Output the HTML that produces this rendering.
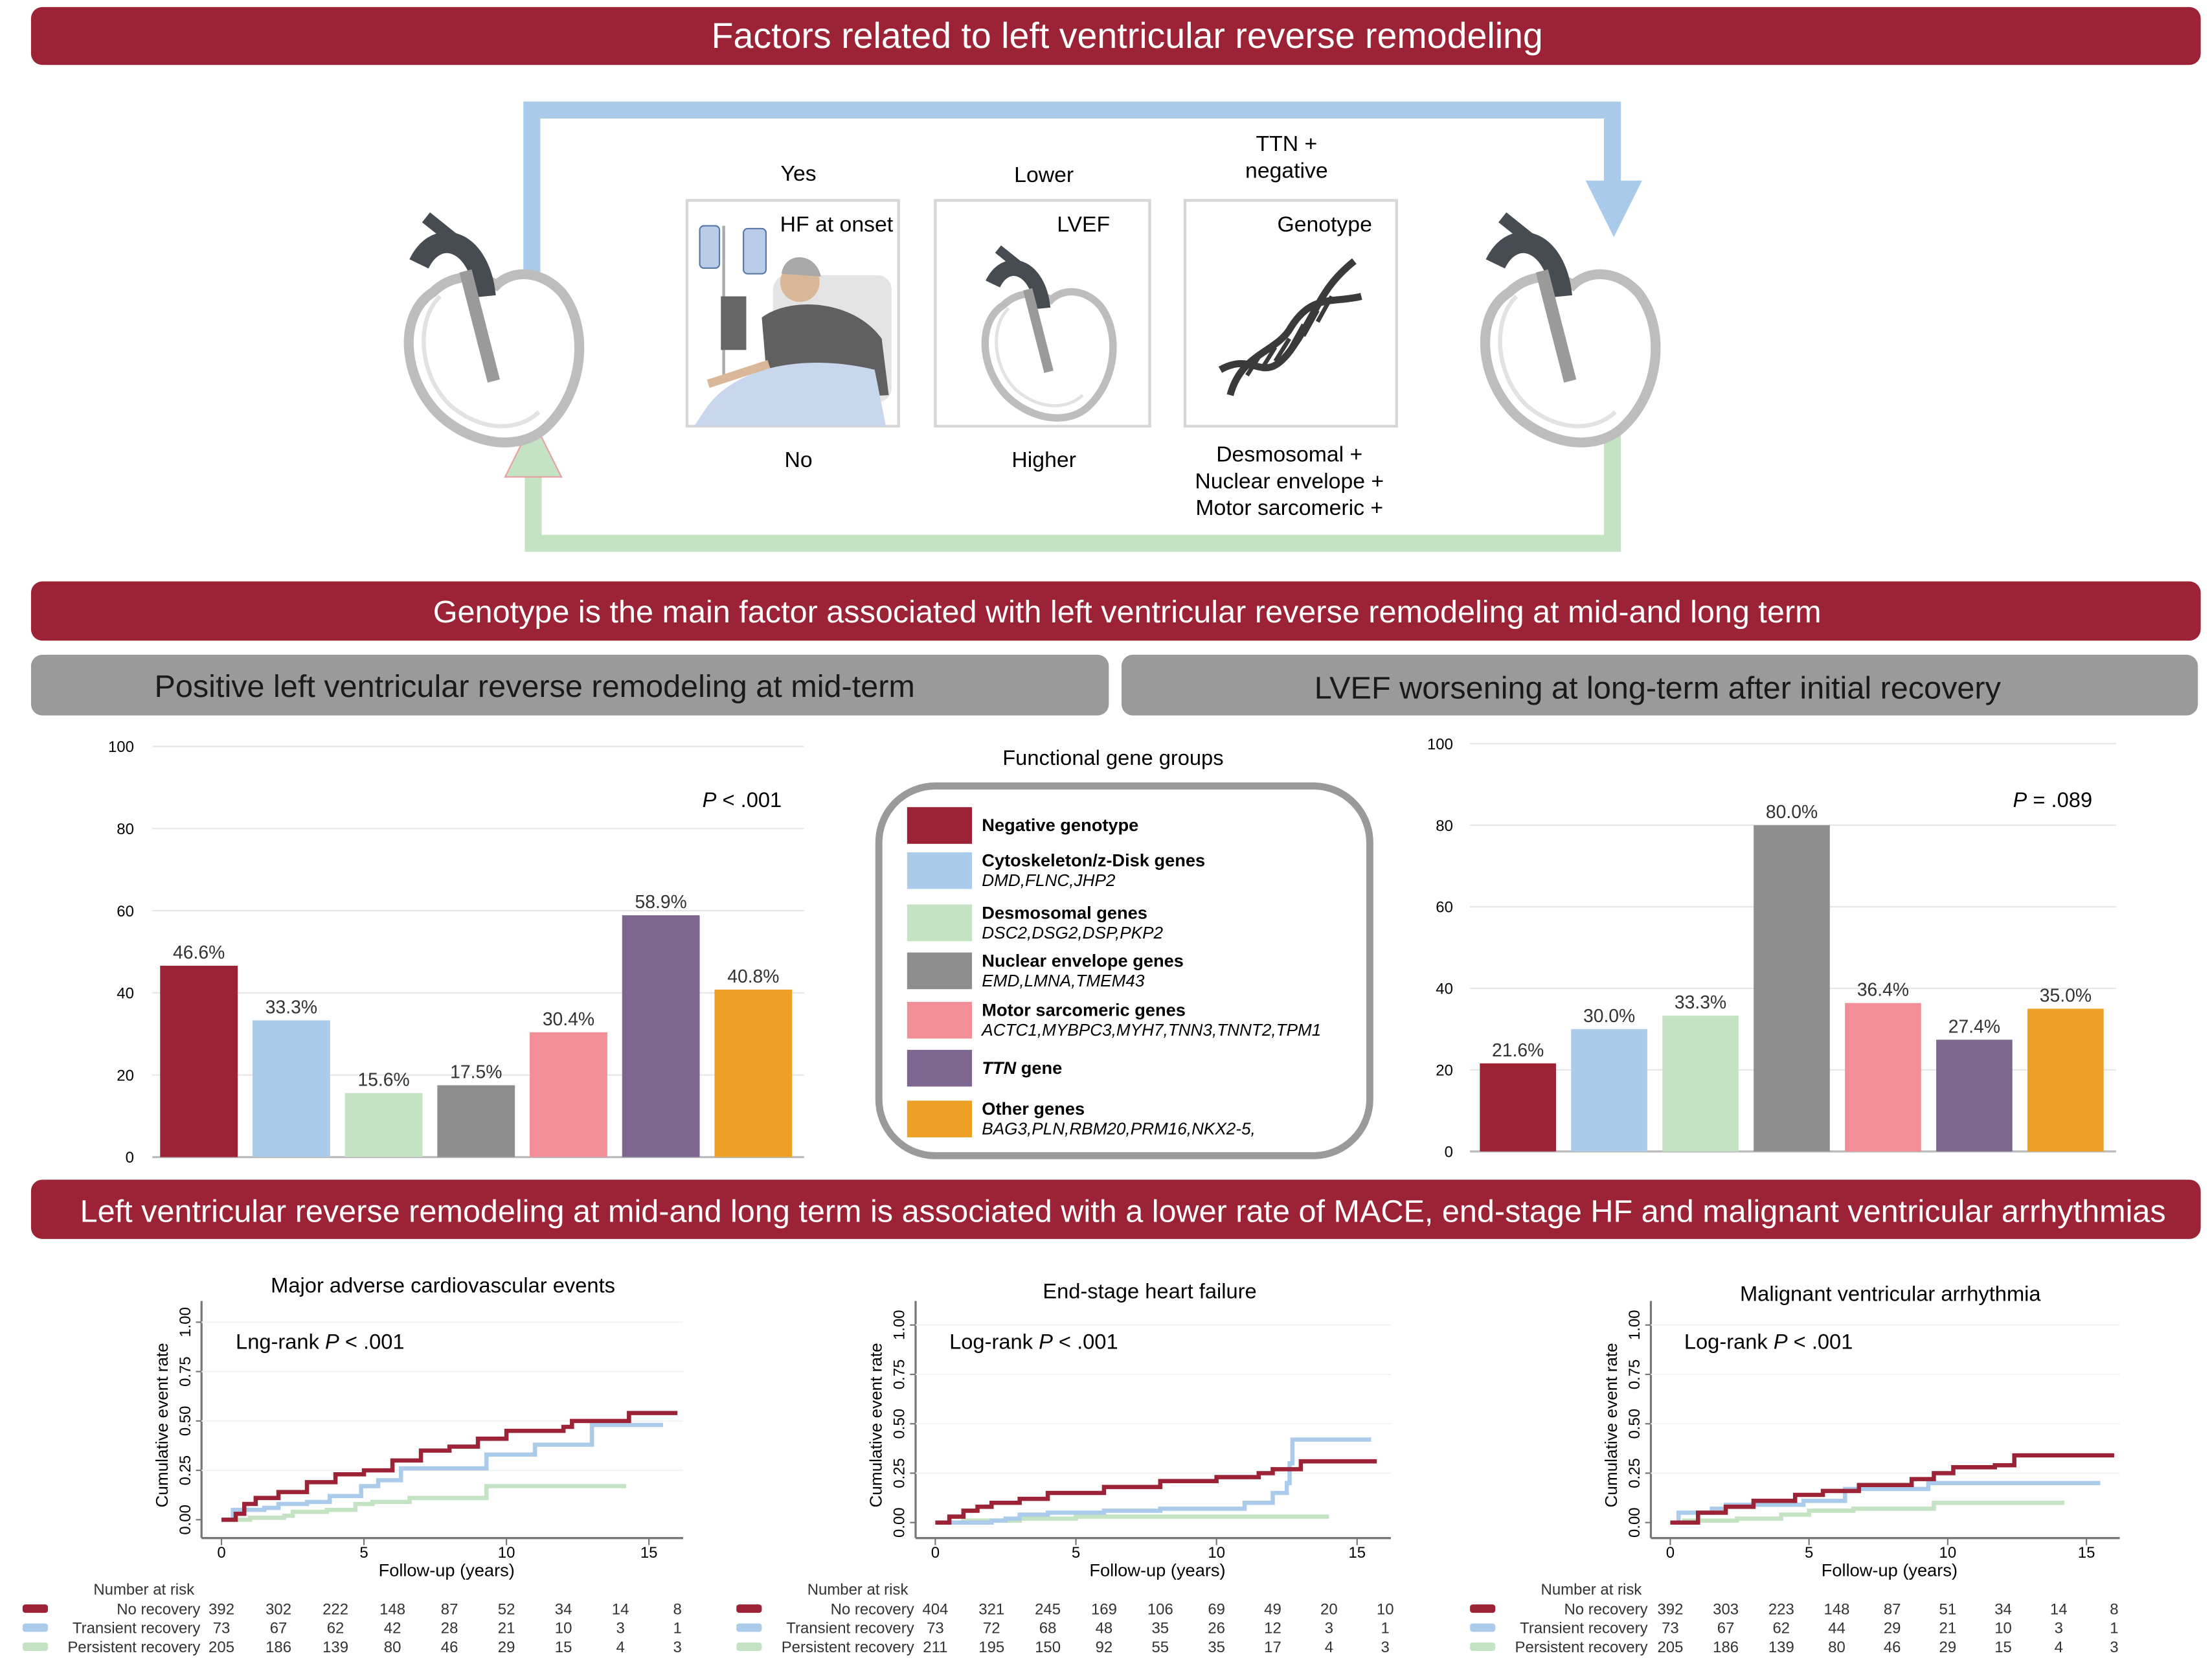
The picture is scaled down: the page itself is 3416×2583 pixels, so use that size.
<!DOCTYPE html>
<html><head><meta charset="utf-8"><style>
html,body{margin:0;padding:0;background:#fff}
svg{display:block}
text{font-family:"Liberation Sans",Arial,sans-serif}
</style></head><body>
<svg id="root" xmlns="http://www.w3.org/2000/svg" width="3416" height="2583" viewBox="0 0 1568 1185.6">
<defs>
<g id="heart">
<path d="M-45,-25 C-72,-8 -66,42 -36,66 C-10,86 20,86 36,70 C62,45 66,0 46,-25 C30,-42 10,-40 0,-30 C-15,-40 -34,-36 -45,-25 Z" fill="#fff" stroke="#bdbdbd" stroke-width="7"/>
<path d="M-40,-22 C-58,-5 -55,35 -32,56 C-10,74 15,74 30,60" fill="none" stroke="#e2e2e2" stroke-width="3"/>
<path d="M-8,-22 C-12,-62 -42,-72 -55,-45" fill="none" stroke="#474c52" stroke-width="15"/>
<path d="M-30,-62 L-50,-78" stroke="#474c52" stroke-width="9"/>
<path d="M-22,-40 L-2,38" stroke="#9a9a9a" stroke-width="9"/>
</g>
</defs>

<g>
<rect x="22" y="5" width="1538" height="41" rx="8" fill="#9b2335"/>
<text x="799" y="34" font-size="25.5" fill="#fff" text-anchor="middle">Factors related to left ventricular reverse remodeling</text>
</g>

<g>
<path d="M377,205 L377,78 L1143,78 L1143,132" fill="none" stroke="#a9cbe9" stroke-width="12"/>
<polygon points="1124,128 1164,128 1144,168" fill="#a9cbe9"/>
</g>
<g>
<path d="M1143,295 L1143,385 L378,385 L378,335" fill="none" stroke="#c3e3c3" stroke-width="12"/>
<polygon points="358,338 398,338 378,298" fill="#c3e3c3" stroke="#e8a0a0" stroke-width="1"/>
</g>

<use href="#heart" transform="translate(352,232)"/>
<use href="#heart" transform="translate(1115,232)"/>

<g>
<rect x="487" y="142" width="150" height="160" fill="#fff" stroke="#d6d6d6" stroke-width="2"/>
<line x1="513" y1="160" x2="513" y2="270" stroke="#aaa" stroke-width="2"/>
<rect x="496" y="160" width="14" height="30" rx="3" fill="#b9cde8" stroke="#5a78a8"/>
<rect x="527" y="162" width="16" height="32" rx="3" fill="#b9cde8" stroke="#5a78a8"/>
<rect x="511" y="210" width="18" height="38" fill="#666"/>
<rect x="548" y="195" width="84" height="90" rx="10" fill="#e4e4e4"/>
<circle cx="567" cy="200" r="14" fill="#d9b89a"/>
<path d="M554,194 C556,178 578,178 582,196" fill="#a8a8a8"/>
<path d="M540,225 C560,210 605,212 625,240 L630,280 L545,285 Z" fill="#606060"/>
<path d="M500,290 C520,260 570,250 620,262 L628,302 L492,302 Z" fill="#c9d7ee"/>
<path d="M502,272 L545,258" stroke="#d9b89a" stroke-width="6"/>
<text x="593" y="164" font-size="15.5" text-anchor="middle">HF at onset</text>
</g>
<g>
<rect x="663" y="142" width="152" height="160" fill="#fff" stroke="#d6d6d6" stroke-width="2"/>
<use href="#heart" transform="translate(745,235) scale(0.75)"/>
<text x="768" y="164" font-size="15.5" text-anchor="middle">LVEF</text>
</g>
<g>
<rect x="840" y="142" width="150" height="160" fill="#fff" stroke="#d6d6d6" stroke-width="2"/>
<path d="M865,262 C890,248 895,275 915,248 C935,220 935,205 960,185" fill="none" stroke="#3a3a3a" stroke-width="5"/>
<path d="M872,280 C880,250 905,250 915,232 C930,208 945,215 965,210" fill="none" stroke="#3a3a3a" stroke-width="5"/>
<path d="M884,266 L893,252 M894,262 L904,246 M904,256 L914,240 M914,248 L924,230 M924,238 L934,220 M934,228 L944,210" stroke="#3a3a3a" stroke-width="3"/>
<text x="939" y="164" font-size="15.5" text-anchor="middle">Genotype</text>
</g>
<g font-size="15.5" text-anchor="middle">
<text x="566" y="128">Yes</text>
<text x="740" y="129">Lower</text>
<text x="912" y="107">TTN +</text>
<text x="912" y="126">negative</text>
<text x="566" y="331">No</text>
<text x="740" y="331">Higher</text>
<text x="914" y="327">Desmosomal +</text>
<text x="914" y="346">Nuclear envelope +</text>
<text x="914" y="365">Motor sarcomeric +</text>
</g>

<g>
<rect x="22" y="412" width="1538" height="42" rx="8" fill="#9b2335"/>
<text x="799" y="441" font-size="22.3" fill="#fff" text-anchor="middle">Genotype is the main factor associated with left ventricular reverse remodeling at mid-and long term</text>
</g>
<g>
<rect x="22" y="464" width="764" height="43" rx="8" fill="#9a9a9a"/>
<text x="379" y="494" font-size="22.3" fill="#1a1a1a" text-anchor="middle">Positive left ventricular reverse remodeling at mid-term</text>
</g>
<g>
<rect x="795" y="464" width="763" height="43" rx="8" fill="#9a9a9a"/>
<text x="1175" y="495" font-size="22.3" fill="#1a1a1a" text-anchor="middle">LVEF worsening at long-term after initial recovery</text>
</g>

<g id="barL"></g>
<g id="barR"></g>
<text x="526" y="572" font-size="15" text-anchor="middle"><tspan font-style="italic">P</tspan> &lt; .001</text>
<text x="1455" y="572" font-size="15" text-anchor="middle"><tspan font-style="italic">P</tspan> = .089</text>

<g>
<text x="789" y="542" font-size="15" text-anchor="middle">Functional gene groups</text>
<rect x="623" y="557" width="348" height="262" rx="40" fill="#fff" stroke="#9a9a9a" stroke-width="5"/>
<g id="legendRows"></g>
</g>

<g>
<rect x="22" y="836" width="1538" height="42" rx="8" fill="#9b2335"/>
<text x="796" y="866" font-size="22.3" fill="#fff" text-anchor="middle">Left ventricular reverse remodeling at mid-and long term is associated with a lower rate of MACE, end-stage HF and malignant ventricular arrhythmias</text>
</g>

<g id="km1"></g>
<g id="km2"></g>
<g id="km3"></g>
</svg>
<script>
const NS="http://www.w3.org/2000/svg";
const barColors=["#9b2335","#abcbea","#c3e3c3","#8e8e8e","#f28f96","#7d6791","#ee9f25"];
const midtermValues=[46.6,33.3,15.6,17.5,30.4,58.9,40.8];
const longtermValues=[21.6,30.0,33.3,80.0,36.4,27.4,35.0];
const barTicks=[0,20,40,60,80,100];
const legendNames=["Negative genotype","Cytoskeleton/z-Disk genes","Desmosomal genes","Nuclear envelope genes","Motor sarcomeric genes","TTN gene","Other genes"];
const legendGenes=["","DMD,FLNC,JHP2","DSC2,DSG2,DSP,PKP2","EMD,LMNA,TMEM43","ACTC1,MYBPC3,MYH7,TNN3,TNNT2,TPM1","","BAG3,PLN,RBM20,PRM16,NKX2-5,"];

const kmTimeTicks=[0,5,10,15];
const kmRateTicks=[0,0.25,0.5,0.75,1];
const riskLabels=["No recovery","Transient recovery","Persistent recovery"];
const km1Red=[[0,0],[0.5,0.03],[0.8,0.08],[1.2,0.11],[2,0.14],[3,0.19],[4,0.23],[5,0.25],[6,0.30],[7,0.35],[8,0.37],[9,0.41],[10,0.45],[12,0.47],[12.3,0.50],[14.3,0.54],[16,0.54]];
const km1Blue=[[0,0],[0.4,0.05],[1.5,0.06],[2,0.08],[3,0.09],[3.8,0.12],[4.9,0.17],[5.5,0.20],[6.3,0.26],[9.3,0.33],[11,0.38],[13,0.48],[15.5,0.48]];
const km1Green=[[0,0],[1,0.01],[2.2,0.02],[2.5,0.04],[3.7,0.05],[4.7,0.08],[5.3,0.09],[6.6,0.11],[9.3,0.17],[14.2,0.17]];
const km1Risk=[[392,302,222,148,87,52,34,14,8],[73,67,62,42,28,21,10,3,1],[205,186,139,80,46,29,15,4,3]];
const km2Red=[[0,0],[0.5,0.03],[1,0.06],[1.5,0.08],[2,0.10],[3,0.12],[4,0.15],[6,0.18],[8,0.21],[10,0.23],[11.5,0.25],[12,0.27],[13,0.31],[15.7,0.31]];
const km2Blue=[[0,0],[2,0.01],[2.5,0.02],[3,0.04],[4,0.05],[6,0.06],[8,0.07],[11,0.10],[12,0.15],[12.5,0.20],[12.6,0.30],[12.7,0.42],[15.5,0.42]];
const km2Green=[[0,0],[1,0.01],[3,0.02],[5,0.03],[14,0.03]];
const km2Risk=[[404,321,245,169,106,69,49,20,10],[73,72,68,48,35,26,12,3,1],[211,195,150,92,55,35,17,4,3]];
const km3Red=[[0,0],[1,0.05],[2,0.08],[3,0.11],[4.5,0.14],[5.5,0.16],[6.8,0.19],[8.7,0.22],[9.5,0.25],[10.2,0.28],[11.7,0.29],[12.4,0.34],[16,0.34]];
const km3Blue=[[0,0],[0.3,0.05],[1.5,0.07],[2,0.09],[4.8,0.11],[6.3,0.17],[9.3,0.20],[15.5,0.20]];
const km3Green=[[0,0],[0.5,0.01],[2.4,0.02],[4,0.04],[5,0.06],[6.6,0.07],[9.5,0.10],[14.2,0.10]];
const km3Risk=[[392,303,223,148,87,51,34,14,8],[73,67,62,44,29,21,10,3,1],[205,186,139,80,46,29,15,4,3]];

function el(tag,attrs,parent,txt){const e=document.createElementNS(NS,tag);for(const k in attrs)e.setAttribute(k,attrs[k]);if(txt!==undefined)e.textContent=txt;parent.appendChild(e);return e;}

function barChart(g,vals,o){
  const y=v=>o.y0-(v/100)*(o.y0-o.y100);
  barTicks.forEach(t=>{
    const tl=el("text",{x:o.lx,y:y(t)+4,"font-size":11,"text-anchor":"end"},g,String(t));
    
    
    el("line",{x1:o.gx0,x2:o.gx1,y1:y(t),y2:y(t),stroke:t===0?"#bbb":"#e6e6e6","stroke-width":t===0?1.5:1},g);
  });
  vals.forEach((v,i)=>{
    const cx=o.c0+i*o.step;
    const r=el("rect",{x:cx-o.w/2,y:y(v),width:o.w,height:o.y0-y(v),fill:barColors[i]},g);
    
    
    const t=el("text",{x:cx,y:y(v)-5,"font-size":13,"text-anchor":"middle",fill:"#333"},g,v.toFixed(1)+"%");
    
    
  });
}
barChart(document.getElementById("barL"),midtermValues,{y0:820,y100:529,lx:95,gx0:108,gx1:570,c0:141,step:65.5,w:55});
barChart(document.getElementById("barR"),longtermValues,{y0:816,y100:527,lx:1030,gx0:1042,gx1:1500,c0:1076,step:64.7,w:54});

const lr=document.getElementById("legendRows");
const rowY=[572,604,641,675,710,744,780];
legendNames.forEach((n,i)=>{
  const y=rowY[i];
  const s=el("rect",{x:643,y:y,width:46,height:26,fill:barColors[i]},lr);
  
  
  const ty=legendGenes[i]?y+10:y+17;
  let t;
  if(n==="TTN gene"){t=el("text",{x:696,y:ty,"font-size":12.5,"font-weight":"bold"},lr);el("tspan",{"font-style":"italic"},t,"TTN");el("tspan",{},t," gene");}
  else t=el("text",{x:696,y:ty,"font-size":12.5,"font-weight":"bold"},lr,n);
  
  
  if(legendGenes[i]){const g2=el("text",{x:696,y:y+24,"font-size":12,"font-style":"italic"},lr,legendGenes[i]);
    
    }
});

function km(g,o,red,blue,green,risk){
  const x=t=>o.x0+t*(o.x15-o.x0)/15;
  const y=v=>o.y0-v*140;
  el("line",{x1:x(-0.7),x2:x(16.2),y1:1090,y2:1090,stroke:"#777","stroke-width":1.5},g);
  el("line",{x1:x(-0.7),x2:x(-0.7),y1:922,y2:1090,stroke:"#777","stroke-width":1.5},g);
  kmTimeTicks.forEach(t=>{el("line",{x1:x(t),x2:x(t),y1:1090,y2:1095,stroke:"#777"},g);
    const l=el("text",{x:x(t),y:1104,"font-size":11,"text-anchor":"middle"},g,String(t));
    
    });
  kmRateTicks.forEach(v=>{el("line",{x1:x(-0.7)-4,x2:x(-0.7),y1:y(v),y2:y(v),stroke:"#777"},g);
    if(v>0)el("line",{x1:x(-0.7),x2:x(16.2),y1:y(v),y2:y(v),stroke:"#f3f3f3"},g);
    const l=el("text",{transform:`translate(${x(-0.7)-8},${y(v)}) rotate(-90)`,"font-size":11,"text-anchor":"middle"},g,v.toFixed(2));
    
    });
  const at=el("text",{transform:`translate(${x(-0.7)-24},1010) rotate(-90)`,"font-size":12,"text-anchor":"middle"},g,"Cumulative event rate");
  
  const xt=el("text",{x:x(7.9),y:1117,"font-size":12.5,"text-anchor":"middle"},g,"Follow-up (years)");
  
  const tt=el("text",{x:o.tx,y:o.ty,"font-size":15,"text-anchor":"middle"},g,o.title);
  
  const lt=el("text",{x:x(0.5),y:956,"font-size":15},g);el("tspan",{},lt,o.lr+" ");el("tspan",{"font-style":"italic"},lt,"P");el("tspan",{},lt," < .001");
  
  [[green,"#c3e3c3"],[blue,"#abcbea"],[red,"#9b2335"]].forEach(([d,c],k)=>{
    let p="M"+x(d[0][0])+","+y(d[0][1]);
    for(let i=1;i<d.length;i++){p+=" H"+x(d[i][0])+" V"+y(d[i][1]);}
    const pl=el("path",{d:p,fill:"none",stroke:c,"stroke-width":3},g);
    
    
  });
  const h=el("text",{x:o.lab-40,y:1130,"font-size":11,"text-anchor":"middle",fill:"#333"},g,"Number at risk");
  
  const cols=["#9b2335","#abcbea","#c3e3c3"];
  risk.forEach((row,r)=>{
    const yy=1144+r*13.5;
    el("rect",{x:o.sw,y:yy-7,width:18,height:6,rx:2,fill:cols[r]},g);
    el("text",{x:o.lab,y:yy,"font-size":11,"text-anchor":"end",fill:"#333"},g,riskLabels[r]);
    row.forEach((n,i)=>{const c=el("text",{x:x(i*2),y:yy,"font-size":11,"text-anchor":"middle",fill:"#333"},g,String(n));
      });
  });
}
km(document.getElementById("km1"),{x0:157,x15:460,y0:1077,tx:314,ty:916,title:"Major adverse cardiovascular events",lr:"Lng-rank",sw:16,lab:142},km1Red,km1Blue,km1Green,km1Risk);
km(document.getElementById("km2"),{x0:663,x15:962,y0:1079,tx:815,ty:920,title:"End-stage heart failure",lr:"Log-rank",sw:522,lab:648},km2Red,km2Blue,km2Green,km2Risk);
km(document.getElementById("km3"),{x0:1184,x15:1479,y0:1079,tx:1340,ty:922,title:"Malignant ventricular arrhythmia",lr:"Log-rank",sw:1042,lab:1168},km3Red,km3Blue,km3Green,km3Risk);
</script>
</body></html>
